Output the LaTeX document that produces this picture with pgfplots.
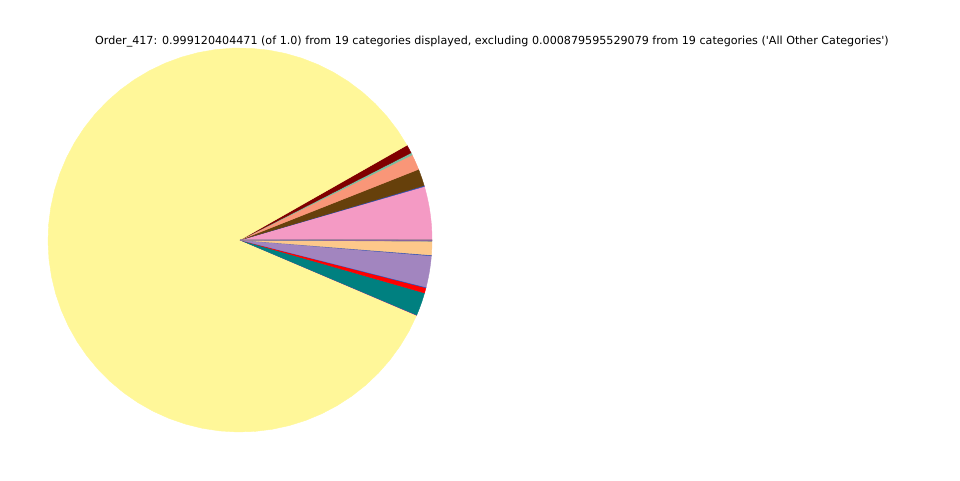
\documentclass[border=0pt]{standalone}
\usepackage{pgfplots}
\pgfplotsset{compat=1.18}
\usepackage{fontspec}
\newfontfamily\dv{DejaVu Sans}
\definecolor{cyellow}{RGB}{255,247,153}
\definecolor{cpink}{RGB}{244,154,196}
\definecolor{cbrown}{RGB}{102,64,11}
\definecolor{csalmon}{RGB}{249,150,120}
\definecolor{cgreen}{RGB}{120,190,160}
\definecolor{cdred}{RGB}{128,0,0}
\definecolor{cteal}{RGB}{0,128,128}
\definecolor{cred}{RGB}{255,0,0}
\definecolor{cpurple}{RGB}{162,133,191}
\definecolor{corange}{RGB}{253,200,138}
\definecolor{cblue}{RGB}{50,80,180}
\definecolor{cmag}{RGB}{200,40,160}
\definecolor{cgrey}{RGB}{140,140,140}
\xdef\startangle{0}
\newcommand\slice[2]{%
  \pgfmathsetmacro\endangle{\startangle+360*#1}%
  \edef\temp{\noexpand\addplot[fill=#2, draw=#2, line width=0.3pt, domain=\startangle:\endangle, samples=60, variable=\noexpand\t]
    ({240+192*cos(\noexpand\t)},{240+192*sin(\noexpand\t)}) -- (axis cs:240,240) -- cycle;}%
  \temp
  \xdef\startangle{\endangle}%
}
\begin{document}
\begin{tikzpicture}
\begin{axis}[
  width=720pt, height=360pt, scale only axis,
  xmin=0, xmax=960, ymin=0, ymax=480,
  axis lines=none, clip=false,
]
\path (rel axis cs:0,0) rectangle (rel axis cs:1,1);
\slice{0.0450}{cpink}
\slice{0.0008}{cblue}
\slice{0.0142}{cbrown}
\slice{0.0131}{csalmon}
\slice{0.0019}{cgreen}
\slice{0.0072}{cdred}
\slice{0.8536}{cyellow}
\slice{0.0003}{cmag}
\slice{0.0194}{cteal}
\slice{0.0044}{cred}
\slice{0.0006}{cblue}
\slice{0.0264}{cpurple}
\slice{0.0006}{cblue}
\slice{0.0114}{corange}
\slice{0.0008}{cgrey}
\slice{0.0001}{cblue}
\slice{0.0001}{cgreen}
\slice{0.0001}{cmag}
\slice{0.0001}{cgrey}
\node[font=\dv\fontsize{8.35pt}{10pt}\selectfont] at (axis cs:492,438) {Order\_417: 0.999120404471 (of 1.0) from 19 categories displayed, excluding 0.000879595529079 from 19 categories ('All Other Categories')};
\end{axis}
\end{tikzpicture}
\end{document}
